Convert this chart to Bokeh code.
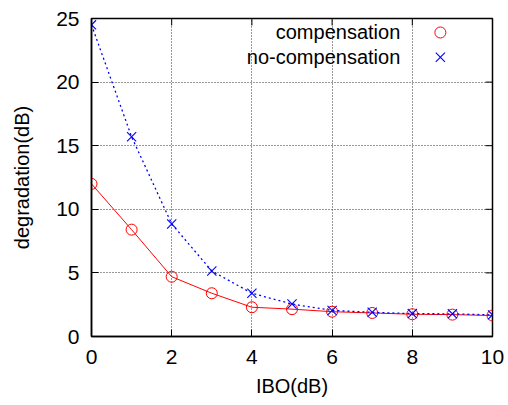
from bokeh.plotting import figure
from bokeh.models import Range1d, FixedTicker, Label
from bokeh.embed import file_html
from bokeh.resources import INLINE

# ---- data ----
ibo = [0, 1, 2, 3, 4, 5, 6, 7, 8, 9, 10]
compensation = [12.0, 8.4, 4.7, 3.4, 2.3, 2.15, 1.95, 1.85, 1.75, 1.72, 1.65]
no_compensation = [24.5, 15.7, 8.85, 5.15, 3.4, 2.55, 2.05, 1.9, 1.8, 1.78, 1.7]
x_ticks = [0, 2, 4, 6, 8, 10]
y_ticks = [0, 5, 10, 15, 20, 25]
series_names = ["compensation", "no-compensation"]

FONT = "Liberation Sans"
FS = "20px"
TICK_FS = "21px"

X0, X1, Y0, Y1 = 0, 10, 0, 25
FRAME_W, FRAME_H = 401, 318
TICK_LEN = 7

p = figure(width=508, height=405, output_backend="svg", toolbar_location=None,
           x_range=Range1d(X0, X1), y_range=Range1d(Y0, Y1),
           min_border_left=91, min_border_right=16, min_border_top=18,
           min_border_bottom=69)
p.background_fill_color = "white"
p.border_fill_color = "white"
p.outline_line_color = "black"
p.outline_line_width = 1.5

for ax in (p.xaxis[0], p.yaxis[0]):
    ax.axis_line_color = "black"
    ax.axis_line_width = 1.5
    ax.major_tick_in = TICK_LEN
    ax.major_tick_out = 0
    ax.minor_tick_line_color = None
    ax.major_tick_line_color = "black"
    ax.major_label_text_font = FONT
    ax.major_label_text_font_size = TICK_FS
    ax.major_label_text_color = "black"
    ax.axis_label_text_font = FONT
    ax.axis_label_text_font_size = FS
    ax.axis_label_text_font_style = "normal"
    ax.axis_label_text_color = "black"

p.xaxis.ticker = FixedTicker(ticks=x_ticks)
p.yaxis.ticker = FixedTicker(ticks=y_ticks)
p.xaxis.axis_label = "IBO(dB)"
p.yaxis.axis_label = "degradation(dB)"
p.xaxis.major_label_standoff = 13
p.xaxis.axis_label_standoff = 8
p.yaxis.major_label_standoff = 12
p.yaxis.axis_label_standoff = 20

for g in (p.xgrid[0], p.ygrid[0]):
    g.grid_line_color = "#333333"
    g.grid_line_dash = "1 2"
    g.grid_line_width = 1
p.xgrid.ticker = FixedTicker(ticks=x_ticks[1:-1])
p.ygrid.ticker = FixedTicker(ticks=y_ticks[1:-1])

# mirrored inward ticks on top and right borders
dy = TICK_LEN * (Y1 - Y0) / FRAME_H
dx = TICK_LEN * (X1 - X0) / FRAME_W
top_ticks = x_ticks[1:-1]
right_ticks = y_ticks[1:-1]
p.segment(x0=top_ticks, y0=[Y1] * len(top_ticks), x1=top_ticks,
          y1=[Y1 - dy] * len(top_ticks), line_color="black", line_width=1)
p.segment(x0=[X1] * len(right_ticks), y0=right_ticks,
          x1=[X1 - dx] * len(right_ticks), y1=right_ticks,
          line_color="black", line_width=1)

# series
p.line(ibo, compensation, line_color="red", line_width=1)
p.scatter(ibo, compensation, marker="circle", size=11, fill_color=None,
          line_color="red", line_width=1)
p.line(ibo, no_compensation, line_color="blue", line_width=1.3, line_dash="2 3")
p.scatter(ibo, no_compensation, marker="x", size=13, line_color="blue",
          line_width=1.1)

# legend (gnuplot style: text right-aligned, marker on the right)
leg_text_x = 7.7
leg_mark_x = 8.7
leg_y = [23.9, 21.95]
for name, yy in zip(series_names, leg_y):
    p.add_layout(Label(x=leg_text_x, y=yy, text=name,
                       text_align="right", text_baseline="middle",
                       text_font=FONT, text_font_size=FS, text_color="black"))
p.scatter([leg_mark_x], [leg_y[0]], marker="circle", size=11, fill_color=None,
          line_color="red", line_width=1)
p.scatter([leg_mark_x], [leg_y[1]], marker="x", size=13, line_color="blue",
          line_width=1.1)

open("out.html", "w").write(file_html(p, INLINE))
